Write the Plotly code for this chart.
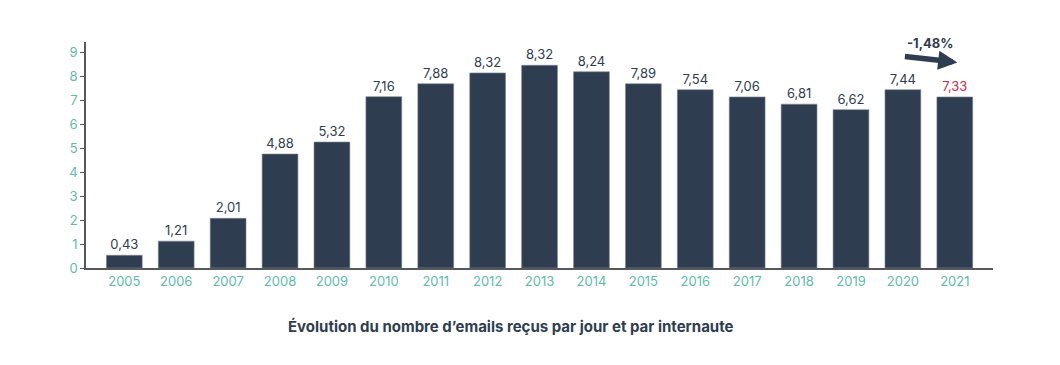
import plotly.graph_objects as go

years = ["2005", "2006", "2007", "2008", "2009", "2010", "2011", "2012", "2013",
         "2014", "2015", "2016", "2017", "2018", "2019", "2020", "2021"]
bar_heights = [0.53, 1.12, 2.07, 4.75, 5.25, 7.14, 7.68, 8.13, 8.45,
               8.18, 7.68, 7.43, 7.13, 6.83, 6.60, 7.43, 7.13]
value_labels = ["0,43", "1,21", "2,01", "4,88", "5,32", "7,16", "7,88", "8,32", "8,32",
                "8,24", "7,89", "7,54", "7,06", "6,81", "6,62", "7,44", "7,33"]
label_colors = ["#2e3e50"] * 16 + ["#d42a45"]
y_ticks = list(range(0, 10))
change_label = "-1,48%"
title_text = "Évolution du nombre d’emails reçus par jour et par internaute"

DARK = "#2e3e50"
TEAL = "#5dbcaa"
FONT = "Inter, Roboto, sans-serif"

W, H = 1060, 365
ML, MR, MT, MB = 78, 75, 34, 105
PW = W - ML - MR
PH = H - MT - MB

fig = go.Figure()
fig.add_trace(go.Bar(
    x=list(range(len(years))),
    y=bar_heights,
    text=value_labels,
    textposition="outside",
    textfont=dict(color=label_colors, size=13, family=FONT),
    marker=dict(color=DARK, line=dict(width=0.6, color="#7d8792")),
    cliponaxis=False,
    hoverinfo="skip",
))

fig.update_layout(
    width=W, height=H,
    margin=dict(l=ML, r=MR, t=MT, b=MB),
    paper_bgcolor="white", plot_bgcolor="white",
    bargap=0.31,
    showlegend=False,
    font=dict(family=FONT, color=DARK),
)
fig.update_xaxes(
    tickmode="array", tickvals=list(range(len(years))), ticktext=years,
    range=[-0.738, 16.736],
    showgrid=False, zeroline=False,
    showline=True, linecolor="#55595e", linewidth=2,
    ticks="", tickfont=dict(color=TEAL, size=13, family=FONT),
)
fig.update_yaxes(
    range=[0, 9.42], tickvals=y_ticks,
    showgrid=False, zeroline=False,
    showline=True, linecolor="#55595e", linewidth=1.5,
    ticks="outside", ticklen=4, tickcolor="#55595e", tickwidth=1,
    tickfont=dict(color=TEAL, size=13, family=FONT),
)

# arrow showing evolution 2020 -> 2021
fig.add_annotation(
    x=16.05, y=8.57, ax=15.01, ay=8.82,
    xref="x", yref="y", axref="x", ayref="y",
    text="", showarrow=True,
    arrowhead=2, arrowsize=0.7, arrowwidth=5.5, arrowcolor=DARK,
)
fig.add_annotation(
    x=15.53, y=9.36, xref="x", yref="y",
    text=f"<b>{change_label}</b>", showarrow=False,
    font=dict(size=13, color=DARK, family=FONT),
)
# title below the chart (page pixel centre ~ (511, 326); page has 8px body offset)
fig.add_annotation(
    x=(511 - 8 - ML) / PW, y=-((326 - 8) - (MT + PH)) / PH,
    xref="paper", yref="paper", xanchor="center", yanchor="middle",
    text=f"<b>{title_text}</b>", showarrow=False,
    font=dict(size=15, color=DARK, family=FONT),
)

fig.write_html("out.html")
